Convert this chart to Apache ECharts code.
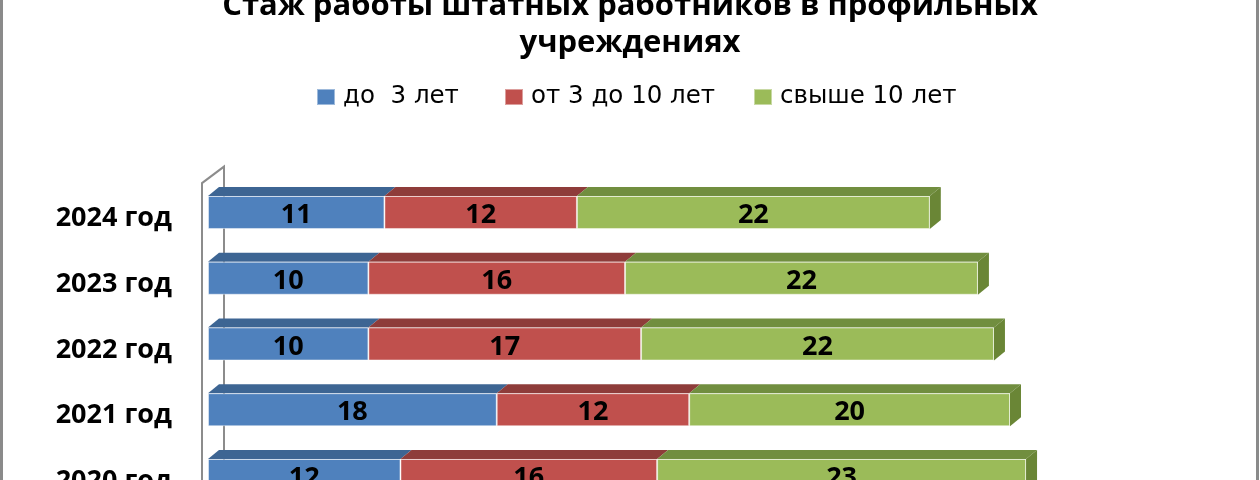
<!DOCTYPE html>
<html>
<head>
<meta charset="utf-8">
<script src="https://cdn.jsdelivr.net/npm/echarts@6/dist/echarts.min.js"></script>
<style>
html,body{margin:0;padding:0;background:#fff;}
#chart{width:1260px;height:480px;}
</style>
</head>
<body>
<div id="chart"></div>
<script>
// ---- data ----
var categories = ['2020 год', '2021 год', '2022 год', '2023 год', '2024 год'];
var seriesNames = ['до  3 лет', 'от 3 до 10 лет', 'свыше 10 лет'];
var upTo3 = [12, 18, 10, 10, 11];
var from3to10 = [16, 12, 17, 16, 12];
var over10 = [23, 20, 22, 22, 22];
var titleText = 'Стаж работы штатных работников в профильных\nучреждениях';

// ---- style ----
var frontColors = ['#4F81BD', '#C0504D', '#9BBB59'];
var topColors = ['#3D6593', '#8E3C3A', '#718E3F'];
var sideColor = '#6A8636';
var BAR_H = 33, DX = 11, DY = 9;
var GRID_LEFT = 208, GRID_TOP = 179.6, GRID_H = 328.75, GRID_W = 962.4;

var chart = echarts.init(document.getElementById('chart'));

var valueSets = [upTo3, from3to10, over10];

var barSeries = valueSets.map(function (vals, k) {
  return {
    name: seriesNames[k],
    type: 'bar',
    stack: 'total',
    barWidth: BAR_H,
    data: vals,
    z: 3,
    itemStyle: { color: frontColors[k], borderColor: 'rgba(255,255,255,0.45)', borderWidth: 1 },
    label: {
      show: true,
      position: 'inside',
      offset: [0, 3],
      color: '#000',
      fontFamily: 'Open Sans',
      fontWeight: 'bold',
      fontSize: 27
    }
  };
});

var depthData = categories.map(function (c, i) {
  return [i, upTo3[i], from3to10[i], over10[i]];
});

var depthSeries = {
  type: 'custom',
  name: 'depth',
  z: 2,
  silent: true,
  encode: { y: 0, x: [1, 2, 3] },
  data: depthData,
  renderItem: function (params, api) {
    var i = api.value(0);
    var vals = [api.value(1), api.value(2), api.value(3)];
    var cy = api.coord([0, i])[1];
    var top = cy - BAR_H / 2, bot = cy + BAR_H / 2;
    var acc = 0, children = [], x1 = 0;
    for (var k = 0; k < vals.length; k++) {
      var x0 = api.coord([acc, i])[0];
      acc += vals[k];
      x1 = api.coord([acc, i])[0];
      children.push({
        type: 'polygon',
        shape: { points: [[x0, top], [x1, top], [x1 + DX, top - DY], [x0 + DX, top - DY]] },
        style: { fill: topColors[k] }
      });
    }
    children.push({
      type: 'polygon',
      shape: { points: [[x1, top], [x1 + DX, top - DY], [x1 + DX, bot - DY], [x1, bot]] },
      style: { fill: sideColor }
    });
    return { type: 'group', children: children };
  }
};

var legendCommon = {
  icon: 'rect',
  itemWidth: 18,
  itemHeight: 16,
  padding: 0,
  top: 82,
  textStyle: { fontFamily: 'DejaVu Sans', fontSize: 24.5, color: '#000', lineHeight: 26, padding: [4, 0, 0, 3] }
};

var option = {
  animation: false,
  backgroundColor: '#fff',
  title: {
    text: titleText,
    left: 'center',
    top: -12,
    padding: 0,
    textStyle: { fontFamily: 'Open Sans', fontWeight: 'bold', fontSize: 31, lineHeight: 37, color: '#000' }
  },
  legend: [
    Object.assign({}, legendCommon, { data: [seriesNames[0]], left: 316 }),
    Object.assign({}, legendCommon, { data: [seriesNames[1]], left: 504 }),
    Object.assign({}, legendCommon, { data: [seriesNames[2]], left: 753 })
  ],
  grid: { left: GRID_LEFT, top: GRID_TOP, width: GRID_W, height: GRID_H, containLabel: false, outerBoundsMode: 'none' },
  xAxis: { type: 'value', min: 0, max: 60, show: false },
  yAxis: {
    type: 'category',
    data: categories,
    axisLine: { show: false },
    axisTick: { show: false },
    splitLine: { show: false },
    axisLabel: {
      margin: 36,
      color: '#000',
      fontFamily: 'Open Sans',
      fontWeight: 'bold',
      fontSize: 27,
      verticalAlign: 'top',
      lineHeight: 12
    }
  },
  series: [depthSeries].concat(barSeries)
};

chart.setOption(option);

// 3D wall lines anchored to the axis origin
var ox = chart.convertToPixel({ xAxisIndex: 0 }, 0);
chart.setOption({
  graphic: [
    {
      type: 'polyline', z: 0, silent: true,
      shape: { points: [[ox - 6, 520], [ox - 6, GRID_TOP + 3.5], [ox + 16, GRID_TOP - 13], [ox + 16, 520]] },
      style: { stroke: '#8C8C8C', lineWidth: 2, fill: null }
    },
    {
      type: 'rect', z: 10, silent: true,
      shape: { x: 1.5, y: -10, width: 1256, height: 500 },
      style: { stroke: '#8A8A8A', lineWidth: 3, fill: null }
    }
  ]
});
</script>
</body>
</html>
